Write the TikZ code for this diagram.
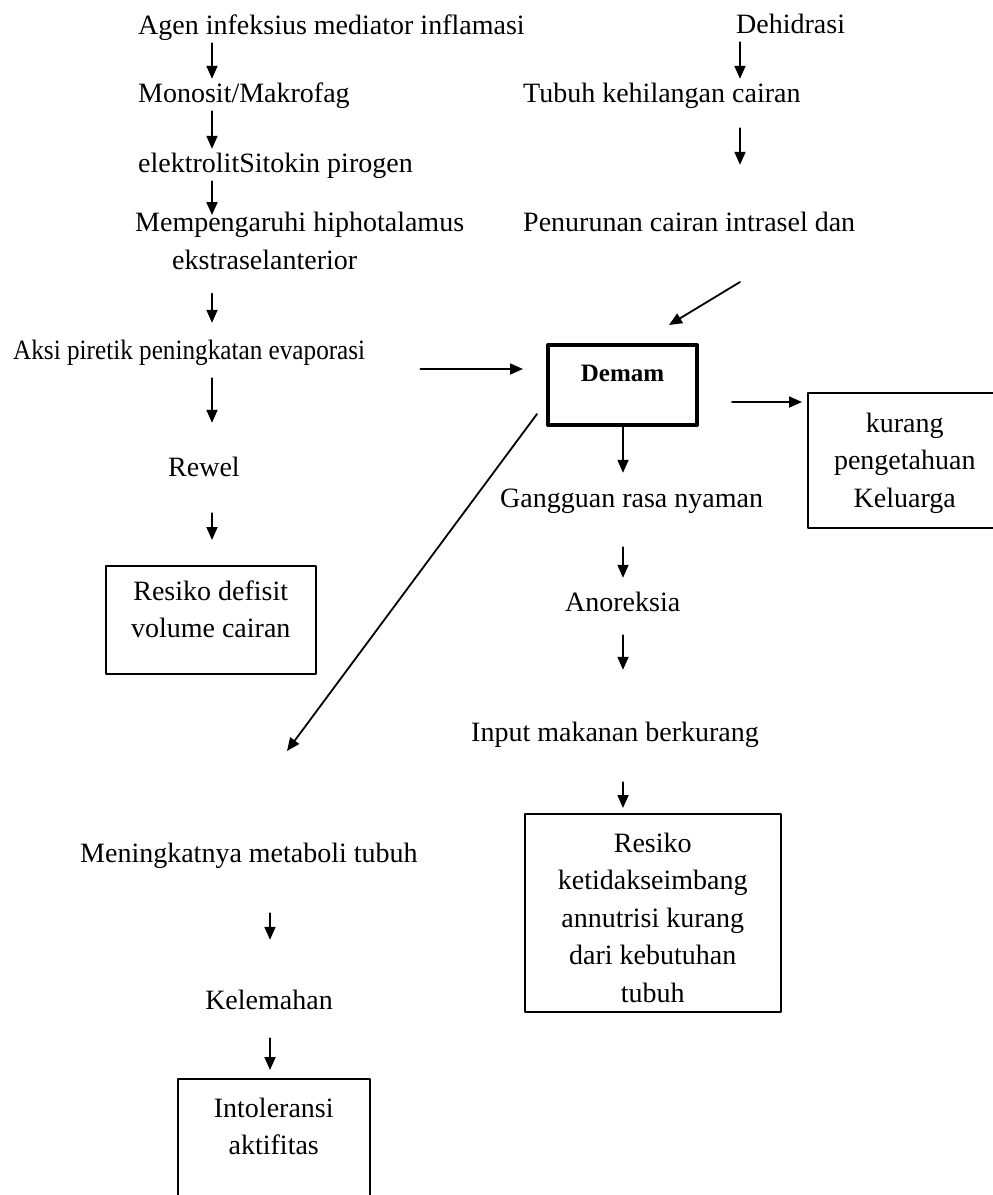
\documentclass[tikz,border=0pt]{standalone}
\usepackage{fontspec}
\setmainfont{Liberation Serif}
\usetikzlibrary{calc}
\usetikzlibrary{arrows.meta}

% text set at the top of a framed box: width, height, top gap, lines
\newcommand{\boxlines}[4]{\parbox[c][#2][t]{#1}{\centering\vspace*{#3}#4\par}}

\begin{document}
\begin{tikzpicture}[
  x=1pt,y=-1pt,
  line cap=round,line join=round,
  txt/.style={inner sep=3pt,font=\fontsize{28}{37.5}\selectfont,
    text height=20pt,text depth=6pt},
  box/.style={draw,line width=1.5pt,inner sep=0pt,
    font=\fontsize{28}{37.5}\selectfont},
  arr/.style={line width=1.8pt,-{Triangle[length=13pt,width=11pt]}}
]
  \useasboundingbox (0,0) rectangle (993,1195);

  % Columns of the vertical arrows
  \coordinate (lcol) at (212,0);
  \coordinate (bcol) at (270,0);
  \coordinate (rcol) at (740,0);
  \coordinate (mcol) at (623,0);

  % Left chain
  \node[txt,anchor=base west] (agen) at (135,34) {Agen infeksius mediator inflamasi};
  \node[txt,anchor=base west] (monosit) at (135,102) {Monosit/Makrofag};
  \node[txt,anchor=base west] (sitokin) at (135,172) {elektrolitSitokin pirogen};
  \node[font=\fontsize{28}{37.5}\selectfont,inner sep=0pt,align=left,
    anchor=north west] (mempeng) at (135,212)
    {Mempengaruhi hiphotalamus\\\hspace*{37pt}ekstraselanterior};
  \node[txt,anchor=base west] (aksi) at (10,359)
    {\scalebox{0.9}[1]{Aksi piretik peningkatan evaporasi}};
  \node[txt,anchor=base] (rewel) at (204,476) {Rewel};
  \node[box,anchor=north west] (rdef) at (105,565)
    {\boxlines{210pt}{108pt}{15pt}{Resiko defisit\\volume cairan}};
  \node[txt,anchor=base west] (metabol) at (77,862) {Meningkatnya metaboli tubuh};
  \node[txt,anchor=base] (lemah) at (269,1009) {Kelemahan};
  \node[box,anchor=north west] (intol) at (177,1078)
    {\boxlines{192pt}{170pt}{19pt}{Intoleransi\\aktifitas}};

  % Right chain
  \node[txt,anchor=base west] (dehid) at (733,33) {Dehidrasi};
  \node[txt,anchor=base west] (tubuh) at (520,102) {Tubuh kehilangan cairan};
  \node[txt,anchor=base west] (turun) at (520,231) {Penurunan cairan intrasel dan};
  \node[box,line width=4pt,anchor=north west,
    font=\fontsize{25}{30}\selectfont\bfseries] (demam) at (546,343)
    {\boxlines{149pt}{80pt}{20pt}{Demam}};
  \node[box,anchor=north west] (kurang) at (807,392)
    {\boxlines{194pt}{135pt}{20pt}{kurang\\pengetahuan\\Keluarga}\hspace{60pt}};
  \node[txt,anchor=base west] (ganggu) at (497,507) {Gangguan rasa nyaman};
  \node[txt,anchor=base west] (anorek) at (562,611) {Anoreksia};
  \node[txt,anchor=base west] (input) at (468,741) {Input makanan berkurang};
  \node[box,anchor=north west] (nutri) at (524,813)
    {\boxlines{256pt}{198pt}{19pt}{Resiko\\ketidakseimbang\\annutrisi kurang\\dari kebutuhan\\tubuh}};

  % Arrows, left
  \draw[arr] (agen.south -| lcol) -- (monosit.north -| lcol);
  \draw[arr] (monosit.south -| lcol) -- (sitokin.north -| lcol);
  \draw[arr,shorten >=-3pt] (sitokin.south -| lcol) -- (mempeng.north -| lcol);
  \draw[arr,shorten <=24pt,shorten >=13pt] (mempeng.south -| lcol) -- (aksi.north -| lcol);
  \draw[arr,shorten <=10pt,shorten >=30pt] (aksi.south -| lcol) -- (rewel.north -| lcol);
  \draw[arr,shorten <=28pt,shorten >=25pt] (rewel.south -| lcol) -- (rdef.north -| lcol);
  \draw[arr,shorten <=42pt,shorten >=46pt] (metabol.south -| bcol) -- (lemah.north -| bcol);
  \draw[arr,shorten <=20pt,shorten >=8pt] (lemah.south -| bcol) -- (intol.north -| bcol);

  % Arrows, right
  \draw[arr] (dehid.south -| rcol) -- (tubuh.north -| rcol);
  \draw[arr,shorten <=17pt,shorten >=43pt] (tubuh.south -| rcol) -- (turun.north -| rcol);
  \coordinate (cairan) at (740,282);
  \draw[arr] (cairan) -- ($(demam.north east)+(-30,-18)$);
  \coordinate (demin) at ($(demam.west)+(-23,-16)$);
  \draw[arr] ($(aksi.east |- demin)+(52,0)$) -- (demin);
  \coordinate (kurin) at ($(kurang.north west)+(-5,10)$);
  \draw[arr] ($(demam.east |- kurin)+(33,0)$) -- (kurin);
  \coordinate (metabtip) at (287,751);
  \draw[arr] ($(demam.south west)+(-9,-13)$) -- (metabtip);
  \draw[arr,shorten >=11pt] (demam.south -| mcol) -- (ganggu.north -| mcol);
  \draw[arr,shorten <=31pt,shorten >=10pt] (ganggu.south -| mcol) -- (anorek.north -| mcol);
  \draw[arr,shorten <=15pt,shorten >=48pt] (anorek.south -| mcol) -- (input.north -| mcol);
  \draw[arr,shorten <=32pt,shorten >=5pt] (input.south -| mcol) -- (nutri.north -| mcol);
\end{tikzpicture}
\end{document}
